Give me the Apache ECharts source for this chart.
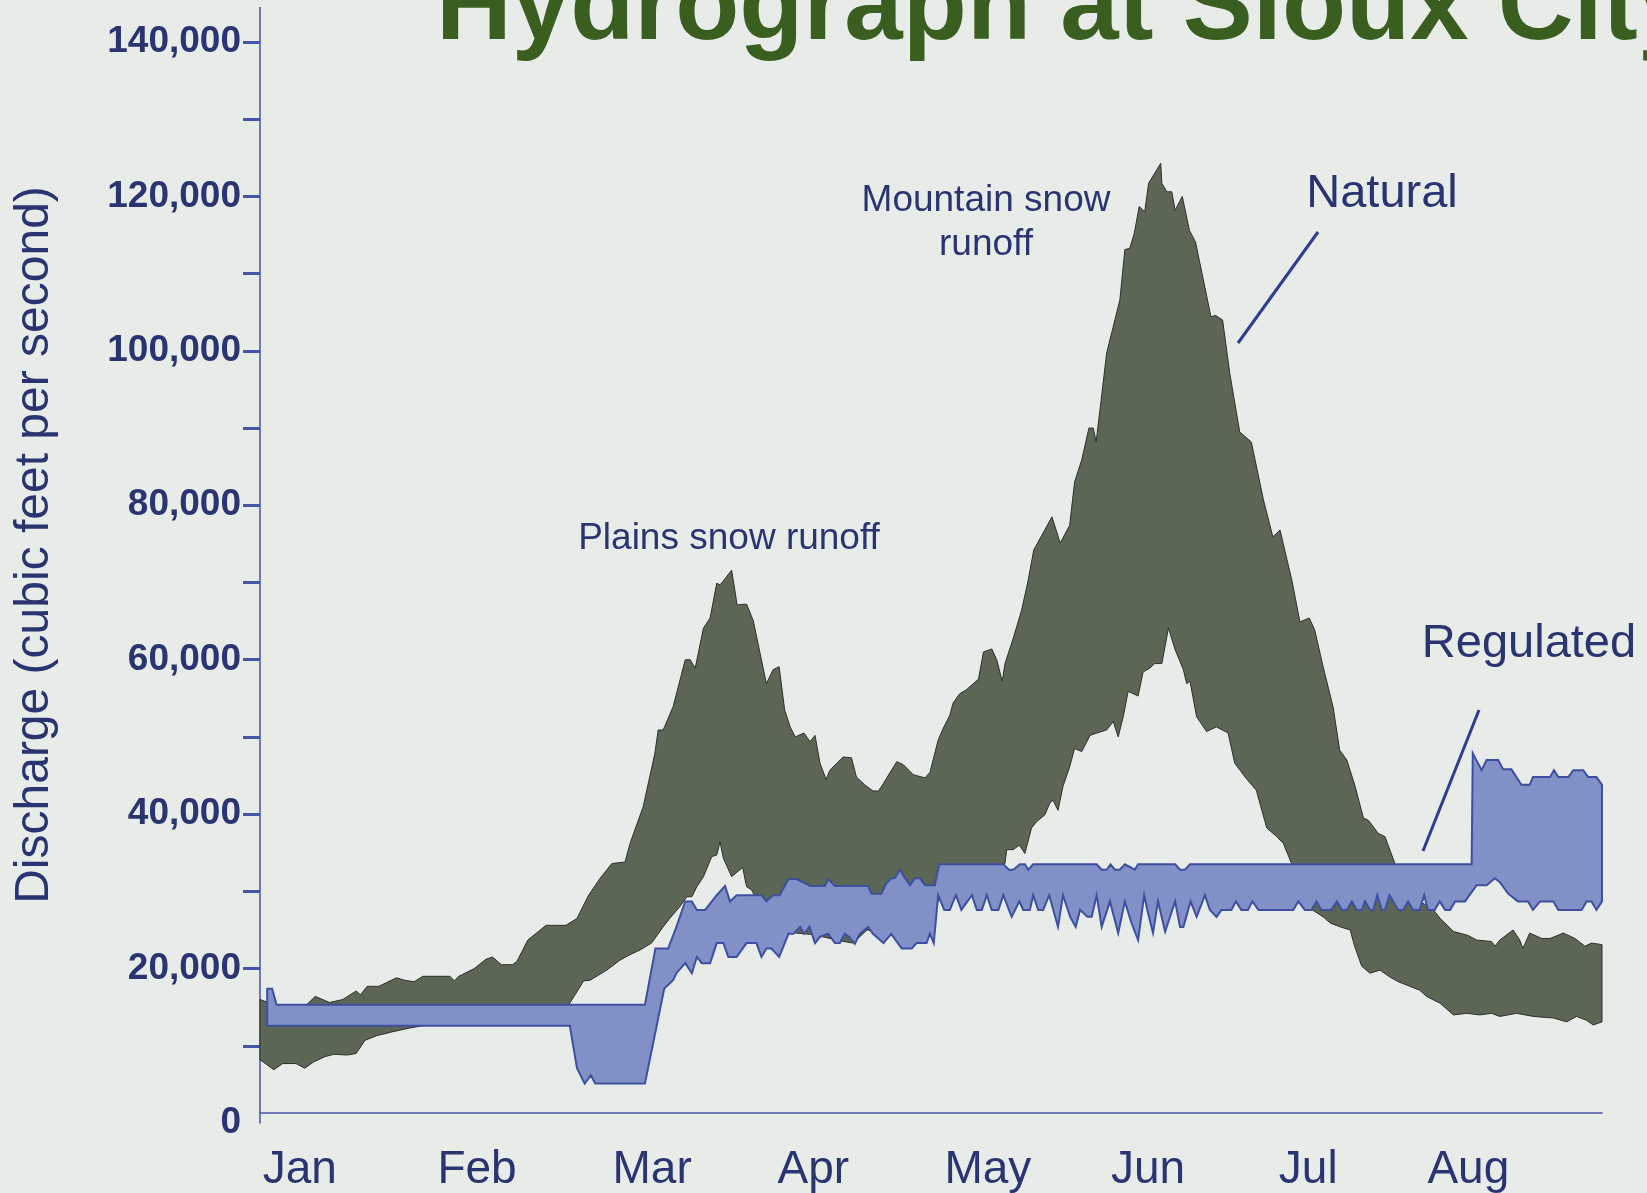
<!DOCTYPE html>
<html>
<head>
<meta charset="utf-8">
<script src="https://cdn.jsdelivr.net/npm/echarts@6/dist/echarts.min.js"></script>
<style>
html, body { margin: 0; padding: 0; background: #e8ece9; }
#chart { width: 1647px; height: 1193px; }
</style>
</head>
<body>
<div id="chart"></div>
<script>
// day of year (0 = Jan 1) against discharge in cfs
var natHigh = [
    [0,16000],[3,15200],[8,15000],[10,16400],[12.6,15600],[15,16000],[17.4,17100],[18.2,16600],[19.4,17700],[21.5,17700],
    [24.7,18800],[26.1,18500],[27.9,18300],[29.5,19000],[34.4,19000],[35.2,18400],[36,19000],[38.8,20000],[40.9,21200],[42.1,21500],
    [43.7,20500],[45.7,20500],[46.5,20900],[48.5,23700],[51.8,25600],[55.4,25600],[57.4,26500],[59.5,29500],[61.6,31700],[63.7,33600],
    [66.1,33800],[67,36200],[69.4,41000],[71.5,47900],[72.1,50900],[73,50900],[74.8,53900],[77,60000],[77.9,60000],[78.8,58900],
    [80.3,64100],[81.5,65400],[82.7,69900],[83.3,69700],[84,70300],[85.4,71600],[86.4,67100],[88.1,67200],[89.3,65100],[91.7,56900],
    [92.9,58700],[94,59100],[95,53500],[96,51300],[96.9,50000],[98.5,50500],[99.6,49400],[100.5,50200],[101.4,46600],[102.5,44500],
    [103.2,45700],[105.6,47400],[107.1,47300],[108,44800],[109.5,43800],[111,43000],[112,43000],[112.9,44000],[115.3,46800],[116.5,46400],
    [118.3,45100],[120.4,44700],[121.3,45400],[122.8,49600],[123.7,51100],[124.9,52800],[125.5,54400],[126.7,55600],[127.9,56100],[130.1,57500],
    [131,61000],[132.5,61400],[133.4,60000],[134.4,57200],[134.9,59500],[136.4,62800],[137.9,66400],[139.1,70300],[140.1,74200],[143.4,78500],
    [144.9,75100],[146.6,77400],[147.5,83000],[148.8,85900],[150.1,90000],[150.9,90000],[151.4,88200],[152.3,93600],[153.3,99700],[155.7,106600],
    [156.6,113100],[157.5,113300],[158.3,115200],[159.2,118700],[160.2,118000],[160.9,121700],[163.1,124300],[163.3,121700],[164.2,120600],[165.1,120600],
    [165.7,118200],[167,120000],[168.3,115600],[169.4,114100],[172.2,104400],[173,104600],[174.3,104000],[175.6,97100],[177.4,89500],[179.5,88200],
    [181.7,80700],[183.4,75900],[184.7,76800],[186.9,70100],[188.3,64900],[190,65400],[191,63800],[192.5,59100],[194.3,53900],[195.5,48300],
    [196.8,47000],[198.3,43600],[199.8,39500],[200.7,39200],[202.5,37500],[203.7,37100],[205.5,33600],[208,30500],[210.5,28500],[212.5,27600],
    [213.7,26500],[216.1,24800],[218.7,24300],[220.3,23700],[223,23500],[223.6,22900],[224.5,23700],[226.9,25000],[228.1,23700],[228.7,22600],
    [229.9,24600],[232.1,23900],[233.6,23900],[236,24600],[238.1,23900],[239.9,22900],[241.1,23300],[243,23100]
];
var natLow = [
    [0,8200],[2.5,6900],[4.1,7700],[6.5,7700],[8.1,7100],[9.7,7900],[11.8,8600],[13.4,8900],[15.8,8800],[17.4,9000],
    [19,10700],[21.1,11300],[23.9,11800],[27.1,12300],[29.5,12600],[35,13200],[40,13700],[45,14200],[50,14600],[54,15000],
    [56,15400],[58.6,18400],[59.8,18500],[62.8,19800],[65.2,21100],[67,21800],[68.8,22400],[70.9,23300],[73,25400],[74.2,26500],
    [76,28000],[77.3,29300],[78.2,29300],[79.1,30600],[80.3,31900],[81.8,34500],[82.7,34700],[83.3,36400],[83.9,34300],[85.4,31900],
    [87.4,33100],[88.1,30600],[89,30200],[91,27500],[94,25500],[97,24600],[100.1,24400],[102.6,24000],[105,23600],[107.4,23300],
    [109.9,25000],[112,24800],[115,25200],[118,26000],[121,27500],[124,29500],[127,31000],[130,32500],[133,33300],[134.9,33600],
    [135.2,35400],[136.4,35400],[137.5,36000],[138.5,34900],[139.7,38200],[140.6,39000],[142.1,39900],[143,41400],[143.6,41800],[144.5,40500],
    [145.4,43600],[146.6,46100],[147.5,48500],[148.8,48100],[150.3,50200],[151.5,50500],[153.3,50900],[154.5,52000],[155.4,50000],[156.3,52600],
    [157.2,55900],[159,55300],[159.9,58400],[161.1,58900],[162,59500],[163.3,59500],[164.5,64100],[165.7,61300],[167.2,58700],[167.8,56900],
    [168.4,57200],[169.6,52600],[171.4,50700],[173.2,51300],[175.3,50500],[176.5,46600],[178.6,44600],[180.4,43100],[182.3,38200],[184.1,37100],
    [185.3,36200],[186.8,33600],[188.5,30500],[190.1,27800],[192.5,26700],[193.8,25900],[195.6,25400],[197.4,25000],[198.2,22900],[199.5,20300],
    [201,19400],[202.8,19800],[204.6,18900],[206.1,18300],[208.2,17700],[210,17200],[211.2,16400],[213.7,15500],[216.1,14000],[218.5,14200],
    [220.9,14000],[223,14200],[224.5,13800],[227.5,14200],[230.6,13800],[234.2,13600],[236.6,13100],[238.4,13800],[240.2,13300],[241.4,12700],
    [243,13100]
];
var regHigh = [
    [1.3,17400],[2.2,17400],[3,15300],[69.7,15300],[71.6,22600],[73.9,22600],[75.4,25400],[77,28700],[78.2,28700],[79.1,27600],
    [80.6,27600],[82.7,29500],[84.2,30700],[85.1,28700],[86.3,29500],[90.8,29500],[91.7,28700],[92.9,29500],[94.1,29500],[95.7,31600],
    [97.2,31600],[99.6,30700],[102.3,30700],[102.9,31600],[104.1,30700],[110.1,30700],[110.7,29700],[112.5,29700],[113.4,31000],[114.3,31700],
    [114.9,31700],[115.9,32800],[116.8,31700],[117.7,30800],[118.6,31700],[119.5,31700],[120.4,30800],[122.2,30800],[123,33500],[134.6,33500],
    [135.6,32800],[136.4,32800],[137.6,33500],[138.5,33500],[139.1,32800],[140,33500],[151.5,33500],[152.4,32800],[153.3,32800],[154,33500],
    [154.8,32800],[155.7,32800],[156.6,33500],[158.4,32800],[159,33500],[165.7,33500],[166.6,32800],[167.5,32800],[168.4,33500],[219.4,33500],
    [219.6,47900],[221.2,45700],[222.1,47000],[224.2,47000],[225.1,45800],[226.6,45800],[228.4,43800],[229.9,43800],[230.5,44800],[233.6,44800],
    [234.3,45700],[235.1,44800],[236.9,44800],[237.8,45700],[239.6,45700],[240.5,44800],[242,44800],[243,43800]
];
var regLow = [
    [1.3,12600],[56.1,12600],[57.4,7100],[58.8,5100],[59.9,6200],[60.7,5100],[69.7,5100],[73.2,17400],[74.8,18500],[75.4,19400],
    [77,20700],[78.2,19400],[79.1,21500],[80,20700],[81.5,20700],[82.7,23300],[83.9,23300],[84.8,21500],[86.3,21500],[88.1,23300],
    [89.9,23300],[90.8,21500],[91.7,22600],[92.6,22600],[94,21500],[95.7,24500],[96.6,24500],[97.8,25400],[98.5,24500],[99.5,25400],
    [100.5,23300],[101.4,24100],[102.9,24500],[104.1,23300],[105,23300],[105.9,24500],[106.7,24100],[107.7,23200],[108.6,24500],[110.1,25400],
    [111,24500],[112.9,23300],[114.3,24500],[116.2,22600],[118,22600],[118.9,23300],[120.7,23300],[121.3,24500],[122,23300],[122.8,29500],
    [123.9,27600],[124.9,27600],[126,29500],[127,27600],[128.9,29500],[129.8,27600],[130.7,27600],[131.6,29500],[132.5,27600],[133.7,27600],
    [134.6,29500],[136.1,26700],[137.5,28700],[138.2,27600],[139.4,27600],[140,29500],[140.9,27600],[141.8,27600],[142.9,29500],[144.5,25400],
    [145.4,29500],[146.7,26700],[147.7,25400],[148.5,27600],[149.8,26700],[150.6,26700],[151.5,29500],[152.4,25400],[153.9,28700],[155.4,24600],
    [156.6,28700],[157.8,25900],[159,23700],[160.1,29500],[160.8,27200],[161.7,24600],[162.6,28700],[163.9,24800],[165.7,28700],[166.6,25400],
    [167.2,25400],[168.5,28700],[169.6,26700],[171.1,29500],[172,27600],[173.2,26700],[174.1,27600],[175.9,27600],[176.7,28700],[177.7,27600],
    [178.9,27600],[179.7,28700],[180.8,27600],[187.1,27600],[188,28700],[189.2,27600],[190.4,27600],[191.3,28700],[192.2,27600],[194,27600],
    [195,28700],[195.9,27600],[196.8,27600],[197.7,28700],[198.6,27600],[199.5,27600],[200.1,28700],[201,27600],[201.6,27600],[202.3,29500],
    [203.1,27600],[203.7,27600],[204.5,29500],[205.2,28700],[206.1,27600],[207,27600],[207.9,28700],[208.8,27600],[210,27600],[210.8,29500],
    [211.5,27600],[212.7,27600],[213.6,28700],[214.6,27600],[215.5,27600],[216.4,28700],[218.2,28700],[220.3,30800],[222.1,30800],[223.6,31700],
    [224.5,31200],[226,29700],[227.8,28700],[229.6,28700],[230.5,27600],[231.8,28700],[234.2,28700],[235.1,27600],[239.3,27600],[240.2,28700],
    [241.1,28700],[242,27600],[243,28700]
];
var monthNames = ['Jan', 'Feb', 'Mar', 'Apr', 'May', 'Jun', 'Jul', 'Aug'];
var monthLabelDays = [7.2, 39.3, 71, 100.2, 131.8, 160.8, 189.8, 218.8];
var yLabelValues = [0, 20000, 40000, 60000, 80000, 100000, 120000, 140000];
var yTickValues = [10000, 20000, 30000, 40000, 50000, 60000, 70000, 80000, 90000, 100000, 110000, 120000, 130000, 140000];

var font = '"Liberation Sans", Arial, sans-serif';
var navy = '#2a3470';
var axisBlue = '#4555a5';

function bandShape(high, low, fill, stroke, width) {
    return function (params, api) {
        var pts = [];
        for (var i = 0; i < high.length; i++) pts.push(api.coord(high[i]));
        for (var j = low.length - 1; j >= 0; j--) pts.push(api.coord(low[j]));
        return {
            type: 'polygon',
            shape: { points: pts },
            style: { fill: fill, stroke: stroke, lineWidth: width, lineJoin: 'miter' }
        };
    };
}

function commas(v) {
    return String(v).replace(/\B(?=(\d{3})+(?!\d))/g, ',');
}

var chart = echarts.init(document.getElementById('chart'));
chart.setOption({
    backgroundColor: '#e8ece9',
    animation: false,
    grid: { left: 260, right: 45, top: 42, bottom: 70 },
    xAxis: {
        type: 'value',
        min: 0,
        max: 243,
        offset: -10,
        axisLine: { lineStyle: { color: axisBlue, width: 1.5 } },
        axisTick: { show: false },
        splitLine: { show: false },
        axisLabel: {
            customValues: monthLabelDays,
            formatter: function (v) { return monthNames[monthLabelDays.indexOf(v)]; },
            color: navy,
            fontSize: 46,
            fontFamily: font,
            margin: 34
        }
    },
    yAxis: {
        type: 'value',
        min: 0,
        max: 140000,
        interval: 10000,
        axisLine: { show: true, lineStyle: { color: axisBlue, width: 1.5 } },
        axisTick: { show: true, customValues: yTickValues, length: 17, lineStyle: { color: axisBlue, width: 3 } },
        splitLine: { show: false },
        axisLabel: {
            customValues: yLabelValues,
            formatter: commas,
            color: navy,
            fontSize: 37,
            fontWeight: 'bold',
            fontFamily: font,
            margin: 19
        }
    },
    series: [
        {
            name: 'Natural',
            type: 'custom',
            renderItem: bandShape(natHigh, natLow, '#5c6655', '#2e2e2e', 1),
            data: [[0, 0]],
            silent: true,
            z: 2
        },
        {
            name: 'Regulated',
            type: 'custom',
            renderItem: bandShape(regHigh, regLow, '#8190c7', '#3e4f9f', 2),
            data: [[0, 0]],
            silent: true,
            z: 3
        }
    ],
    graphic: [
        {
            type: 'text', x: 436, y: 10,
            style: { text: 'Hydrograph at Sioux City', font: 'bold 105px ' + font, fill: '#3a5e1f', align: 'left', verticalAlign: 'middle' }
        },
        {
            type: 'text', x: 35, y: 545, rotation: Math.PI / 2,
            style: { text: 'Discharge (cubic feet per second)', font: '48px ' + font, fill: navy, align: 'center', verticalAlign: 'middle' }
        },
        {
            type: 'line', shape: { x1: 260, y1: 7, x2: 260, y2: 42 },
            style: { stroke: axisBlue, lineWidth: 1.5 }
        },
        {
            type: 'text', x: 729, y: 539,
            style: { text: 'Plains snow runoff', font: '37px ' + font, fill: navy, align: 'center', verticalAlign: 'middle' }
        },
        {
            type: 'text', x: 986, y: 223,
            style: { text: 'Mountain snow\nrunoff', font: '37px ' + font, lineHeight: 44, fill: navy, align: 'center', verticalAlign: 'middle' }
        },
        {
            type: 'text', x: 1382, y: 194,
            style: { text: 'Natural', font: '47px ' + font, fill: navy, align: 'center', verticalAlign: 'middle' }
        },
        {
            type: 'text', x: 1529, y: 644,
            style: { text: 'Regulated', font: '47px ' + font, fill: navy, align: 'center', verticalAlign: 'middle' }
        },
        {
            type: 'line', shape: { x1: 1318, y1: 232, x2: 1238, y2: 343 },
            style: { stroke: '#2e3d8e', lineWidth: 3 }
        },
        {
            type: 'line', shape: { x1: 1479, y1: 710, x2: 1423, y2: 851 },
            style: { stroke: '#2e3d8e', lineWidth: 3 }
        }
    ]
});
</script>
</body>
</html>
